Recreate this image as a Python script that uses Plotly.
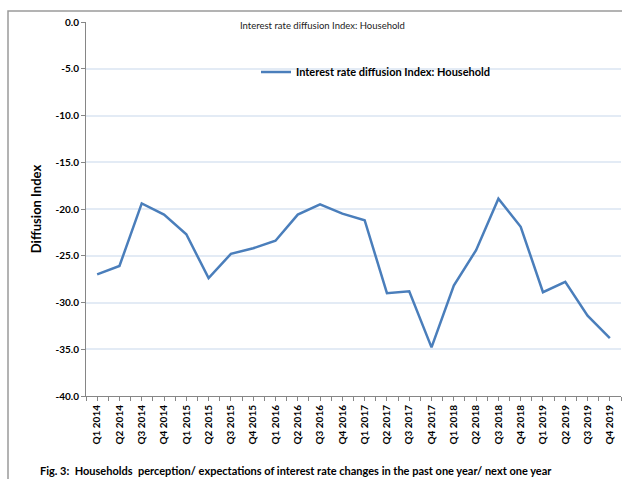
import plotly.graph_objects as go

quarters = ["Q1 2014", "Q2 2014", "Q3 2014", "Q4 2014",
            "Q1 2015", "Q2 2015", "Q3 2015", "Q4 2015",
            "Q1 2016", "Q2 2016", "Q3 2016", "Q4 2016",
            "Q1 2017", "Q2 2017", "Q3 2017", "Q4 2017",
            "Q1 2018", "Q2 2018", "Q3 2018", "Q4 2018",
            "Q1 2019", "Q2 2019", "Q3 2019", "Q4 2019"]
diffusion_index = [-27.0, -26.1, -19.4, -20.6,
                   -22.7, -27.4, -24.8, -24.2,
                   -23.4, -20.6, -19.5, -20.5,
                   -21.2, -29.0, -28.8, -34.8,
                   -28.2, -24.4, -18.9, -21.9,
                   -28.9, -27.8, -31.4, -33.8]
y_ticks = [0, -5, -10, -15, -20, -25, -30, -35, -40]
series_name = "Interest rate diffusion Index: Household"
chart_title = "Interest rate diffusion Index: Household"
y_title = "Diffusion Index"
caption = "Fig. 3:  Households  perception/ expectations of interest rate changes in the past one year/ next one year"

FONT = "Lato"
xs = list(range(len(quarters)))

fig = go.Figure()
fig.add_trace(go.Scatter(
    x=xs, y=diffusion_index, mode="lines", name=series_name,
    line=dict(color="#4a7ebb", width=2.5), showlegend=True,
))

W, H = 622, 479
ml, mr, mt, mb = 86, 1, 22, 83
pw = W - ml - mr
ph = H - mt - mb

def px(xp):
    return (xp - ml) / pw

def py(yp):
    return (H - mb - yp) / ph

fig.update_layout(
    width=W, height=H,
    margin=dict(l=ml, r=mr, t=mt, b=mb),
    paper_bgcolor="white", plot_bgcolor="white",
    font=dict(family=FONT, color="#000000"),
    showlegend=True,
    legend=dict(x=px(256), y=py(72), xanchor="left", yanchor="middle",
                bgcolor="rgba(0,0,0,0)", itemwidth=30,
                font=dict(family=FONT, size=11, color="#000000", weight="bold")),
    xaxis=dict(
        range=[-0.5, len(quarters) - 0.5],
        tickmode="array", tickvals=xs, ticktext=quarters,
        tickangle=-90, showgrid=False, zeroline=False,
        showline=True, linecolor="#868686", linewidth=1,
        ticks="outside", ticklen=4, tickcolor="#868686",
        minor=dict(dtick=0.5, ticks="outside", ticklen=4, tickcolor="#868686", tick0=0.5, showgrid=False),
        tickfont=dict(family=FONT, size=10, color="#000000", weight="bold"),
    ),
    yaxis=dict(
        range=[-40, 0], tickmode="array", tickvals=y_ticks,
        ticktext=[f"{v:.1f}" for v in y_ticks],
        showgrid=True, gridcolor="#e3ebf5", gridwidth=1.5,
        zeroline=False, showline=True, linecolor="#868686", linewidth=1,
        ticks="outside", ticklen=4, tickcolor="#868686",
        tickfont=dict(family=FONT, size=10, color="#000000", weight="bold"),
        title=dict(text=y_title, standoff=10,
                   font=dict(family=FONT, size=13, color="#000000", weight="bold")),
    ),
    shapes=[dict(type="rect", xref="paper", yref="paper",
                 x0=px(8), x1=px(640), y0=py(520), y1=py(11),
                 line=dict(color="#9a9a9a", width=1.5), fillcolor="rgba(0,0,0,0)",
                 layer="below")],
    annotations=[
        dict(text=chart_title, xref="paper", yref="paper", x=px(322), y=py(25),
             xanchor="center", yanchor="middle", showarrow=False,
             font=dict(family=FONT, size=9.5, color="#222222")),
        dict(text=caption, xref="paper", yref="paper", x=px(38), y=py(471),
             xanchor="left", yanchor="middle", showarrow=False,
             font=dict(family=FONT, size=11, color="#000000", weight="bold")),
    ],
)

fig.write_html("out.html")
